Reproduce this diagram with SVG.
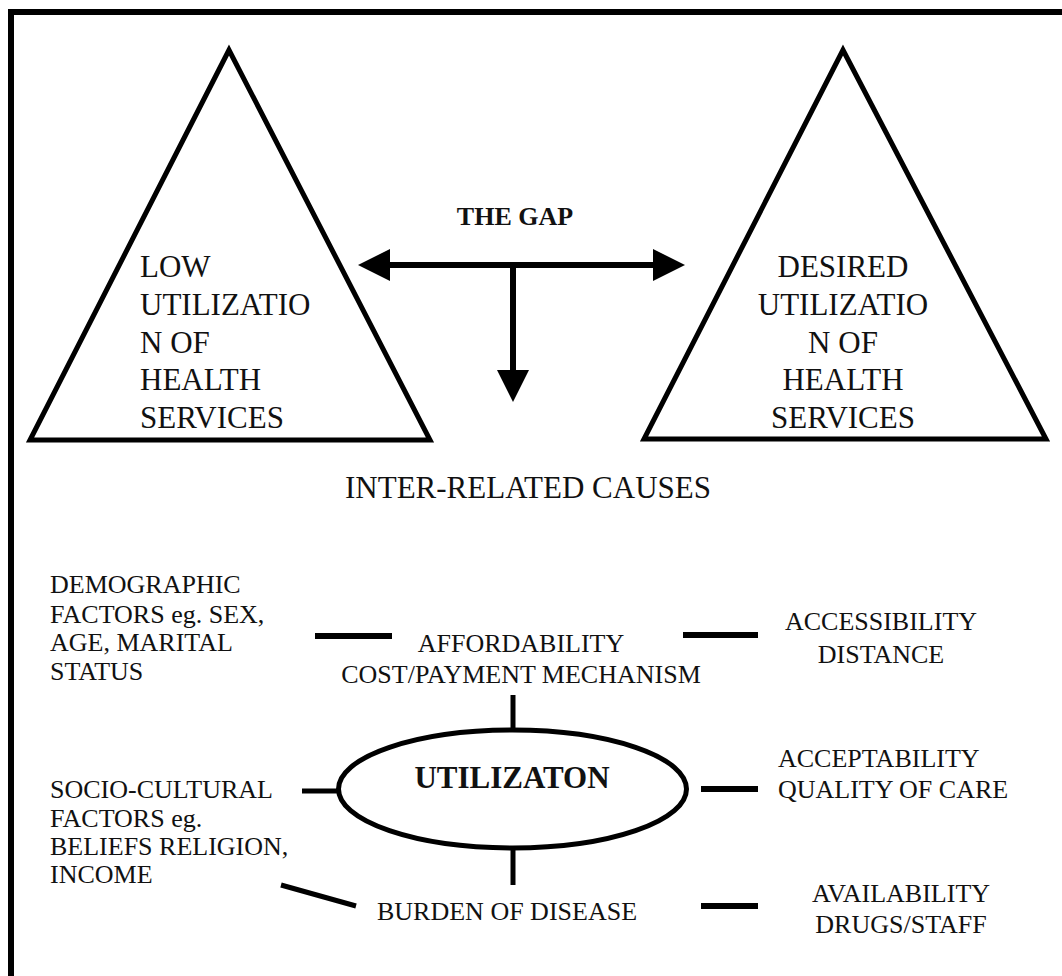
<svg xmlns="http://www.w3.org/2000/svg" width="1062" height="976" viewBox="0 0 1062 976">
<style>
  .t { font-family: "Liberation Serif", "Times New Roman", serif; fill: #111; }
  .big { font-size: 31px; }
  .med { font-size: 26px; }
  .b { font-weight: bold; }
  .shape { fill: none; stroke: #000; stroke-width: 5; stroke-linejoin: miter; }
  .ln { stroke: #000; stroke-width: 6; fill: none; }
  .ln5 { stroke: #000; stroke-width: 5; fill: none; }
  .head { fill: #000; stroke: none; }
</style>
<rect width="1062" height="976" fill="#fff"/>
<g id="frame">
  <path class="ln" d="M11,976 V12 H1062"/>
</g>
<g id="low-utilization">
  <polygon class="shape" points="229,50 30,440 430,440"/>
  <text class="t big" x="140" y="277">LOW</text>
  <text class="t big" x="140" y="315">UTILIZATIO</text>
  <text class="t big" x="140" y="353">N OF</text>
  <text class="t big" x="140" y="390">HEALTH</text>
  <text class="t big" x="140" y="428">SERVICES</text>
</g>
<g id="desired-utilization">
  <polygon class="shape" points="843,50 644,439 1046,439"/>
  <text class="t big" x="843" y="277" text-anchor="middle">DESIRED</text>
  <text class="t big" x="843" y="315" text-anchor="middle">UTILIZATIO</text>
  <text class="t big" x="843" y="353" text-anchor="middle">N OF</text>
  <text class="t big" x="843" y="390" text-anchor="middle">HEALTH</text>
  <text class="t big" x="843" y="428" text-anchor="middle">SERVICES</text>
</g>
<g id="the-gap">
  <text class="t b" font-size="26" x="515" y="225" text-anchor="middle">THE GAP</text>
</g>
<g id="inter-related">
  <text class="t big" x="528" y="498" text-anchor="middle">INTER-RELATED CAUSES</text>
</g>
<g id="demographic">
  <text class="t med" x="50" y="593">DEMOGRAPHIC</text>
  <text class="t med" x="50" y="623">FACTORS eg. SEX,</text>
  <text class="t med" x="50" y="651">AGE, MARITAL</text>
  <text class="t med" x="50" y="680">STATUS</text>
</g>
<g id="affordability">
  <text class="t med" x="521" y="652" text-anchor="middle">AFFORDABILITY</text>
  <text class="t med" x="521" y="683" text-anchor="middle">COST/PAYMENT MECHANISM</text>
</g>
<g id="accessibility">
  <text class="t med" x="881" y="630" text-anchor="middle">ACCESSIBILITY</text>
  <text class="t med" x="881" y="663" text-anchor="middle">DISTANCE</text>
</g>
<g id="socio-cultural">
  <text class="t med" x="50" y="798">SOCIO-CULTURAL</text>
  <text class="t med" x="50" y="827">FACTORS eg.</text>
  <text class="t med" x="50" y="855">BELIEFS RELIGION,</text>
  <text class="t med" x="50" y="883">INCOME</text>
</g>
<g id="utilization">
  <ellipse class="shape" cx="512.5" cy="789" rx="174" ry="59"/>
  <text class="t b" font-size="31" x="512" y="788" text-anchor="middle">UTILIZATON</text>
</g>
<g id="acceptability">
  <text class="t med" x="778" y="767">ACCEPTABILITY</text>
  <text class="t med" x="778" y="798">QUALITY OF CARE</text>
</g>
<g id="burden">
  <text class="t med" x="507" y="920" text-anchor="middle">BURDEN OF DISEASE</text>
</g>
<g id="availability">
  <text class="t med" x="901" y="902" text-anchor="middle">AVAILABILITY</text>
  <text class="t med" x="901" y="933" text-anchor="middle">DRUGS/STAFF</text>
</g>
<g id="connectors">
  <line class="ln" x1="386" y1="265" x2="657" y2="265"/>
  <polygon class="head" points="358,265 390,249 390,281"/>
  <polygon class="head" points="685,265 653,249 653,281"/>
  <line class="ln" x1="513" y1="265" x2="513" y2="375"/>
  <polygon class="head" points="513,402 497,370 529,370"/>
  <line class="ln" x1="315" y1="636" x2="392" y2="636"/>
  <line class="ln" x1="683" y1="635" x2="758" y2="635"/>
  <line class="ln5" x1="513" y1="695" x2="513" y2="730"/>
  <line class="ln5" x1="302" y1="791" x2="338" y2="791"/>
  <line class="ln" x1="701" y1="789" x2="758" y2="789"/>
  <line class="ln5" x1="513" y1="848" x2="513" y2="885"/>
  <line class="ln5" x1="281" y1="885" x2="356" y2="906"/>
  <line class="ln" x1="701" y1="906" x2="758" y2="906"/>
</g>
</svg>
